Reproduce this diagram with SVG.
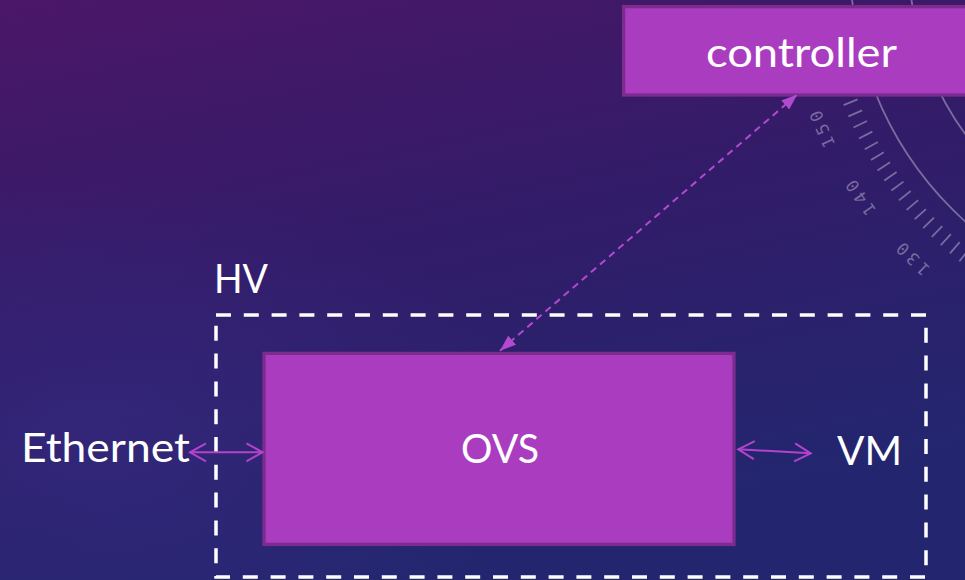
<svg xmlns="http://www.w3.org/2000/svg" xmlns:xlink="http://www.w3.org/1999/xlink" width="965" height="580" viewBox="0 0 965 580">
  <defs>
    <linearGradient id="bg" x1="0" y1="0" x2="0.35" y2="1">
      <stop offset="0" stop-color="#4B1668"/>
      <stop offset="0.5" stop-color="#321C69"/>
      <stop offset="1" stop-color="#23266F"/>
    </linearGradient>
    <radialGradient id="glow" cx="0.1" cy="0.75" r="0.45">
      <stop offset="0" stop-color="#3A2C86" stop-opacity="0.5"/>
      <stop offset="1" stop-color="#3A2C86" stop-opacity="0"/>
    </radialGradient>
    <marker id="openArrow" viewBox="0 0 20 22" refX="18" refY="11" markerWidth="20" markerHeight="22" markerUnits="userSpaceOnUse" orient="auto-start-reverse">
      <path d="M2,2 L18,11 L2,20" fill="none" stroke="#B443CC" stroke-width="2"/>
    </marker>
    <marker id="solidArrow" viewBox="0 0 16 12" refX="16" refY="6" markerWidth="16" markerHeight="12" markerUnits="userSpaceOnUse" orient="auto-start-reverse">
      <path d="M0,0 L16,6 L0,12 z" fill="#B249CF"/>
    </marker>
    <line id="tick" x1="369" y1="0" x2="384" y2="0"/>
  </defs>
  <style>
    .lbl { font-family: Lato, "Open Sans", "Liberation Sans", sans-serif; font-size: 41px; fill: #FFFFFF; }
    .node { fill: #AA3DBF; stroke: #7C2B8F; stroke-width: 3.3; }
    .dial { fill: none; stroke: #A9A1C6; stroke-opacity: 0.6; stroke-width: 1.8; }
    .dialnum { font-family: "DejaVu Sans Mono", "Liberation Mono", monospace; font-size: 17px; fill: #A9A1C6; fill-opacity: 0.6; letter-spacing: 4px; }
    .link { fill: none; stroke: #B443CC; stroke-width: 2; }
    .ctrl { fill: none; stroke: #B249CF; stroke-width: 2; stroke-dasharray: 7 5; }
    .hv { fill: none; stroke: #FFFFFF; stroke-width: 3.5; stroke-dasharray: 15 12.8; }
  </style>

  <g id="background">
    <rect x="0" y="0" width="965" height="580" fill="url(#bg)"/>
    <rect x="0" y="0" width="965" height="580" fill="url(#glow)"/>
  </g>

  <g id="dial" transform="translate(1200,-38)">
    <circle class="dial" cx="0" cy="0" r="350"/>
    <circle class="dial" cx="0" cy="0" r="291"/>
    <g class="dial">
      <use xlink:href="#tick" transform="rotate(123.3)"/>
      <use xlink:href="#tick" transform="rotate(125.13)"/>
      <use xlink:href="#tick" transform="rotate(126.97)"/>
      <use xlink:href="#tick" transform="rotate(128.8)"/>
      <use xlink:href="#tick" transform="rotate(130.63)"/>
      <use xlink:href="#tick" transform="rotate(132.47)"/>
      <use xlink:href="#tick" transform="rotate(134.3)"/>
      <use xlink:href="#tick" transform="rotate(136.13)"/>
      <use xlink:href="#tick" transform="rotate(137.97)"/>
      <use xlink:href="#tick" transform="rotate(139.8)"/>
      <use xlink:href="#tick" transform="rotate(141.63)"/>
      <use xlink:href="#tick" transform="rotate(143.47)"/>
      <use xlink:href="#tick" transform="rotate(145.3)"/>
      <use xlink:href="#tick" transform="rotate(147.13)"/>
      <use xlink:href="#tick" transform="rotate(148.97)"/>
      <use xlink:href="#tick" transform="rotate(150.8)"/>
      <use xlink:href="#tick" transform="rotate(152.63)"/>
      <use xlink:href="#tick" transform="rotate(154.47)"/>
      <use xlink:href="#tick" transform="rotate(156.3)"/>
      <use xlink:href="#tick" transform="rotate(158.13)"/>
      <use xlink:href="#tick" transform="rotate(159.97)"/>
      <use xlink:href="#tick" transform="rotate(161.8)"/>
      <use xlink:href="#tick" transform="rotate(163.63)"/>
      <use xlink:href="#tick" transform="rotate(165.47)"/>
      <use xlink:href="#tick" transform="rotate(167.3)"/>
      <use xlink:href="#tick" transform="rotate(169.13)"/>
    </g>
    <text class="dialnum" text-anchor="middle" dy="6" transform="rotate(156.4) translate(413,0) rotate(90)">150</text>
    <text class="dialnum" text-anchor="middle" dy="6" transform="rotate(145.5) translate(413,0) rotate(90)">140</text>
    <text class="dialnum" text-anchor="middle" dy="6" transform="rotate(134.3) translate(413,0) rotate(90)">130</text>
  </g>

  <g id="node-hv">
    <rect class="hv" x="216" y="315" width="710" height="262"/>
    <text class="lbl" x="214" y="293" textLength="54" lengthAdjust="spacingAndGlyphs">HV</text>
  </g>

  <g id="node-controller">
    <rect class="node" x="623.6" y="6.6" width="356" height="88.4"/>
    <text class="lbl" x="801.5" y="67" text-anchor="middle" textLength="191" lengthAdjust="spacingAndGlyphs">controller</text>
  </g>

  <g id="node-ovs">
    <rect class="node" x="264" y="353.4" width="470" height="191"/>
    <text class="lbl" x="500" y="463" text-anchor="middle" textLength="78" lengthAdjust="spacingAndGlyphs">OVS</text>
  </g>

  <g id="node-ethernet">
    <text class="lbl" x="21" y="462" textLength="169" lengthAdjust="spacingAndGlyphs">Ethernet</text>
  </g>

  <g id="node-vm">
    <text class="lbl" x="837" y="465" textLength="65" lengthAdjust="spacingAndGlyphs">VM</text>
  </g>

  <g id="connectors">
    <line class="ctrl" x1="500" y1="350.7" x2="797.3" y2="94.5" marker-start="url(#solidArrow)" marker-end="url(#solidArrow)"/>
    <line class="link" x1="190" y1="452.3" x2="262.5" y2="452.3" marker-start="url(#openArrow)" marker-end="url(#openArrow)"/>
    <line class="link" x1="738.3" y1="449.3" x2="810.7" y2="453.3" marker-start="url(#openArrow)" marker-end="url(#openArrow)"/>
  </g>
</svg>
